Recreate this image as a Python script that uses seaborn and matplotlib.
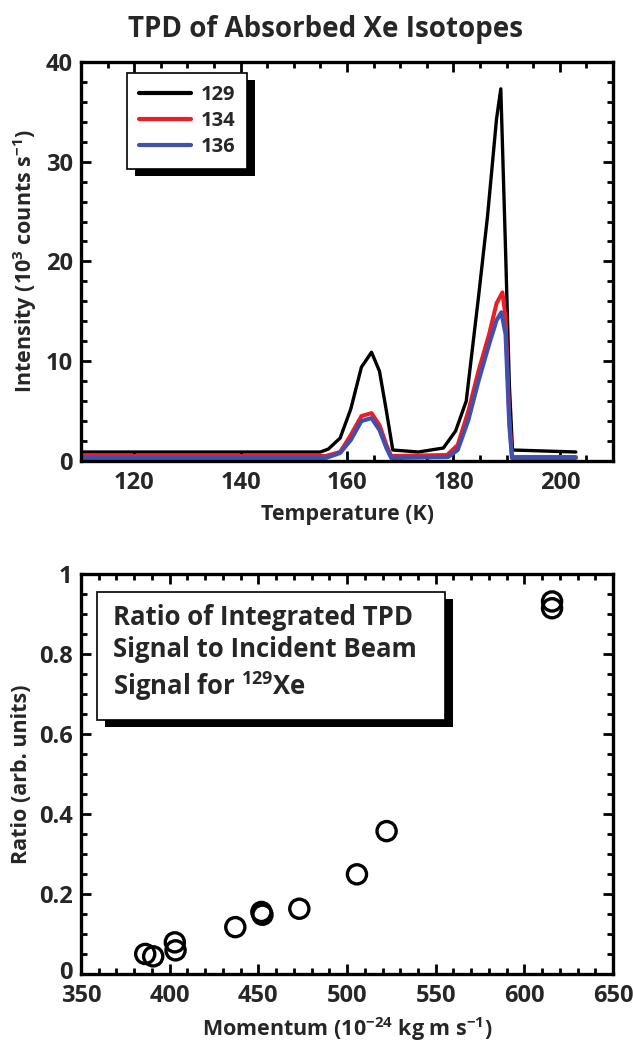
import numpy as np
import pandas as pd
import matplotlib
matplotlib.use("Agg")
import matplotlib.pyplot as plt
import matplotlib.patheffects as pe
import matplotlib.transforms as mtransforms
from matplotlib.patches import Rectangle
from matplotlib.ticker import MultipleLocator, FixedLocator
import seaborn as sns

# ---------------- data ----------------
isotopes = ["129", "134", "136"]
colors = ["#000000", "#EE1C25", "#3F51B0"]

temp_129 = [110, 155, 156.5, 158.7, 160.7, 162.7, 164.6, 166.1, 167.4, 168.6, 173.4, 178.1,
            180.4, 182.4, 184.7, 186.4, 188.1, 188.9, 189.8, 190.5, 191.1, 203]
int_129 = [0.9, 0.9, 1.2, 2.3, 5.2, 9.4, 10.9, 9.0, 5.0, 1.1, 0.9, 1.3,
           3.0, 6.0, 16.4, 24.5, 34.3, 37.3, 21.0, 7.7, 1.1, 0.9]

temp_134 = [110, 156, 158.7, 160.7, 162.7, 164.6, 166.1, 167.4, 168.3, 178.8,
            180.8, 182.8, 184.7, 186.7, 188.1, 189.2, 189.8, 190.5, 191.0, 203]
int_134 = [0.5, 0.5, 0.9, 2.6, 4.5, 4.8, 3.6, 1.6, 0.5, 0.6,
           1.6, 5.0, 9.0, 12.7, 15.8, 16.9, 14.4, 4.3, 0.4, 0.4]

temp_136 = [110, 156, 158.7, 160.7, 162.7, 164.6, 166.1, 167.4, 168.3, 179.0,
            180.8, 182.8, 184.7, 186.7, 188.1, 189.0, 189.8, 190.5, 191.0, 203]
int_136 = [0.3, 0.3, 0.8, 2.1, 4.0, 4.3, 3.1, 1.3, 0.3, 0.4,
           1.1, 4.1, 8.0, 11.7, 14.1, 14.9, 12.7, 3.6, 0.3, 0.3]

momentum = [386.2, 390.7, 402.9, 403.3, 437.0, 451.7, 452.3, 473.1, 505.6, 522.3, 615.6, 615.6]
ratio = [0.050, 0.044, 0.079, 0.059, 0.117, 0.155, 0.148, 0.163, 0.249, 0.357, 0.931, 0.914]

top_xticks = [120, 140, 160, 180, 200]
top_yticks = [0, 10, 20, 30, 40]
bot_xticks = [350, 400, 450, 500, 550, 600, 650]
bot_yticks = [0, 0.2, 0.4, 0.6, 0.8, 1.0]
bot_yticklabels = ["0", "0.2", "0.4", "0.6", "0.8", "1"]

# ---------------- style ----------------
sns.set_theme(style="ticks")
FONT = "Open Sans"
plt.rcParams["font.family"] = [FONT, "DejaVu Sans"]
plt.rcParams["font.weight"] = "bold"
plt.rcParams["mathtext.fontset"] = "custom"
plt.rcParams["mathtext.rm"] = FONT + ":bold"
plt.rcParams["mathtext.bf"] = FONT + ":bold"
plt.rcParams["mathtext.it"] = FONT + ":bold"
plt.rcParams["mathtext.default"] = "rm"

df = pd.concat([
    pd.DataFrame({"T": temp_129, "I": int_129, "iso": "129"}),
    pd.DataFrame({"T": temp_134, "I": int_134, "iso": "134"}),
    pd.DataFrame({"T": temp_136, "I": int_136, "iso": "136"}),
], ignore_index=True)

fig = plt.figure(figsize=(6.33, 10.42), dpi=100)
ax1 = fig.add_axes([0.128, 0.5576, 0.8405, 0.383])
ax2 = fig.add_axes([0.128, 0.0653, 0.8405, 0.384])

def style_axes(ax):
    for s in ax.spines.values():
        s.set_linewidth(2.4)
        s.set_color("black")
        s.set_visible(True)
    ax.tick_params(which="both", direction="in", top=True, right=True,
                   color="black", width=2.0)
    ax.tick_params(which="major", length=7, labelsize=17)
    ax.tick_params(axis="x", which="major", pad=7)
    ax.tick_params(axis="y", which="major", pad=6)
    ax.tick_params(which="minor", length=4)
    ax.grid(False)
    for lab in ax.get_xticklabels() + ax.get_yticklabels():
        lab.set_fontweight("bold")

# ---------------- top: TPD ----------------
sns.lineplot(data=df, x="T", y="I", hue="iso", hue_order=isotopes,
             palette=dict(zip(isotopes, colors)), estimator=None, sort=False,
             linewidth=2.6, ax=ax1, legend=True)
widths = [2.4, 2.9, 3.0]
for ln, w in zip(ax1.lines[:3], widths):
    ln.set_linewidth(w)
ax1.set_xlim(110, 210)
ax1.set_ylim(0, 40)
ax1.xaxis.set_major_locator(FixedLocator(top_xticks))
ax1.yaxis.set_major_locator(FixedLocator(top_yticks))
ax1.xaxis.set_minor_locator(MultipleLocator(5))
ax1.yaxis.set_minor_locator(MultipleLocator(2))
ax1.set_xticklabels([str(v) for v in top_xticks])
ax1.set_yticklabels([str(v) for v in top_yticks])
ax1.set_xlabel("Temperature (K)", fontsize=15.5, fontweight="bold", labelpad=7)
ax1.set_ylabel("Intensity (10$^{3}$ counts s$^{-1}$)", fontsize=15.5, fontweight="bold", labelpad=5)
style_axes(ax1)

handles, labels = ax1.get_legend_handles_labels()
for h in handles:
    h.set_linewidth(3.0)
leg = ax1.legend(handles, labels, loc="upper left", bbox_to_anchor=(0.0865, 0.972),
                 borderaxespad=0, frameon=True, fancybox=False, framealpha=1,
                 edgecolor="black", handlelength=2.6, handletextpad=0.45,
                 labelspacing=0.3, borderpad=0.6, prop={"weight": "bold", "size": 14.5})
leg.get_frame().set_linewidth(1.2)
leg.get_frame().set_path_effects([
    pe.SimplePatchShadow(offset=(5.5, -5), shadow_rgbFace="black", alpha=1.0),
    pe.Normal()])

fig.text(0.515, 1 - 30 / 1042, "TPD of Absorbed Xe Isotopes", ha="center", va="center",
         fontsize=20, fontweight="bold")

# ---------------- bottom: ratio ----------------
sns.scatterplot(x=momentum, y=ratio, marker="o", s=190, facecolor="none",
                edgecolor="black", linewidth=2.4, ax=ax2, zorder=3)
ax2.set_xlim(350, 650)
ax2.set_ylim(0, 1)
ax2.xaxis.set_major_locator(FixedLocator(bot_xticks))
ax2.yaxis.set_major_locator(FixedLocator(bot_yticks))
ax2.xaxis.set_minor_locator(MultipleLocator(10))
ax2.yaxis.set_minor_locator(MultipleLocator(0.05))
ax2.set_xticklabels([str(v) for v in bot_xticks])
ax2.set_yticklabels(bot_yticklabels)
ax2.set_xlabel("Momentum (10$^{-24}$ kg m s$^{-1}$)", fontsize=15.5, fontweight="bold", labelpad=5)
ax2.set_ylabel("Ratio (arb. units)", fontsize=15.5, fontweight="bold", labelpad=5)
style_axes(ax2)
zero_lab = ax2.get_yticklabels()[0]
zero_lab.set_transform(zero_lab.get_transform() +
                       mtransforms.ScaledTranslation(0, 2.5 / 72, fig.dpi_scale_trans))

box = Rectangle((0.030, 0.635), 0.654, 0.32, transform=ax2.transAxes,
                facecolor="white", edgecolor="black", linewidth=1.2, zorder=4)
box.set_path_effects([
    pe.SimplePatchShadow(offset=(5.5, -5), shadow_rgbFace="black", alpha=1.0),
    pe.Normal()])
ax2.add_patch(box)
ax2.text(0.060, 0.925, "Ratio of Integrated TPD\nSignal to Incident Beam\nSignal for $^{129}$Xe",
         transform=ax2.transAxes, ha="left", va="top", fontsize=18.5, fontweight="bold",
         linespacing=1.25, zorder=5)

fig.savefig("out.png", dpi=100)
